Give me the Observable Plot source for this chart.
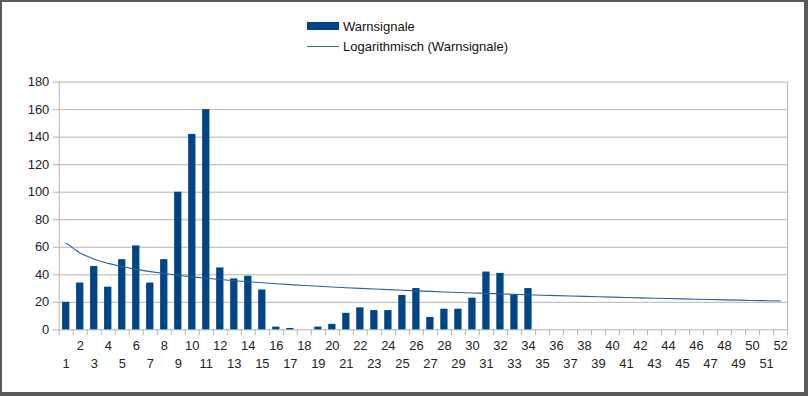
<!DOCTYPE html>
<html><head><meta charset="utf-8">
<script src="https://cdn.jsdelivr.net/npm/d3@7"></script>
<script src="https://cdn.jsdelivr.net/npm/@observablehq/plot@0.6"></script>
<style>
html,body{margin:0;padding:0;background:#fff;}
#frame{position:relative;width:808px;height:396px;box-sizing:border-box;border-style:solid;border-color:#5a5a5a;border-width:2px 4px 4px 2px;background:#fff;overflow:hidden;font-family:"Liberation Sans",Arial,sans-serif;}
#chart{position:absolute;left:-2px;top:-2px;}
.leg{position:absolute;font-size:13px;color:#111;line-height:13px;}
.sw{position:absolute;}
</style>
</head><body>
<div id="frame">
  <div id="chart"></div>
  <div class="sw" style="left:305px;top:20px;width:32px;height:8px;background:#004586"></div>
  <div class="leg" style="left:341px;top:18px;">Warnsignale</div>
  <div class="sw" style="left:305px;top:44px;width:32px;height:1px;background:#3b6aa0"></div>
  <div class="leg" style="left:341px;top:38px;">Logarithmisch (Warnsignale)</div>
</div>
<script>
// Category axis: weeks 1..52
const weeks = d3.range(1, 53);
// Weekly values (weeks 1..34); weeks 35..52 have no data
const values = [20,34,46,31,51,61,34,51,100,142,160,45,37,39,29,2,1,0,2,4,12,16,14,14,25,30,9,15,15,23,42,41,25,30];
const yTicks = [0,20,40,60,80,100,120,140,160,180];
const seriesName = "Warnsignale";
const trendName = "Logarithmisch (Warnsignale)";

const bars = values.map((v, i) => ({week: i + 1, value: v}));

// Logarithmic least-squares trend (y = a*ln(x) + b) fitted to the data
const lx = bars.map(d => Math.log(d.week));
const mx = d3.mean(lx), my = d3.mean(bars, d => d.value);
const a = d3.sum(bars, (d, i) => (lx[i] - mx) * (d.value - my)) / d3.sum(lx, v => (v - mx) ** 2);
const b = my - a * mx;
const trend = weeks.map(w => ({week: w, value: a * Math.log(w) + b}));

const boundaries = d3.range(0.5, 53, 1);
const evens = weeks.filter(w => w % 2 === 0);
const odds = weeks.filter(w => w % 2 === 1);

const chart = Plot.plot({
  width: 808, height: 396,
  marginLeft: 59, marginRight: 17, marginTop: 82, marginBottom: 65,
  style: {fontFamily: "'Liberation Sans', Arial, sans-serif", fontSize: "13px", color: "#222", background: "transparent"},
  x: {domain: [0.5, 52.5], axis: null, label: null},
  y: {domain: [0, 180], axis: null, label: null},
  marks: [
    Plot.ruleY(yTicks, {stroke: "#b3b3b3", strokeWidth: 1}),
    Plot.ruleX([0.5, 52.5], {stroke: "#b3b3b3", strokeWidth: 1}),
    Plot.axisY({ticks: yTicks, label: null, tickSize: 6, tickPadding: 4, stroke: "#b3b3b3", fill: "#222", fontSize: 13, tickFormat: d => d}),
    Plot.axisX({ticks: boundaries, label: null, tickSize: 6, tickFormat: () => "", stroke: "#b3b3b3"}),
    Plot.axisX({ticks: evens, label: null, tickSize: 0, tickPadding: 11, fill: "#222", fontSize: 13, tickFormat: d => d}),
    Plot.axisX({ticks: odds, label: null, tickSize: 0, tickPadding: 29, fill: "#222", fontSize: 13, tickFormat: d => d}),
    Plot.rectY(bars, {x1: d => d.week - 0.26, x2: d => d.week + 0.26, y: "value", fill: "#004586"}),
    Plot.line(trend, {x: "week", y: "value", stroke: "#2d5f98", strokeWidth: 1.1})
  ]
});
document.getElementById("chart").appendChild(chart);
</script>
</body></html>
